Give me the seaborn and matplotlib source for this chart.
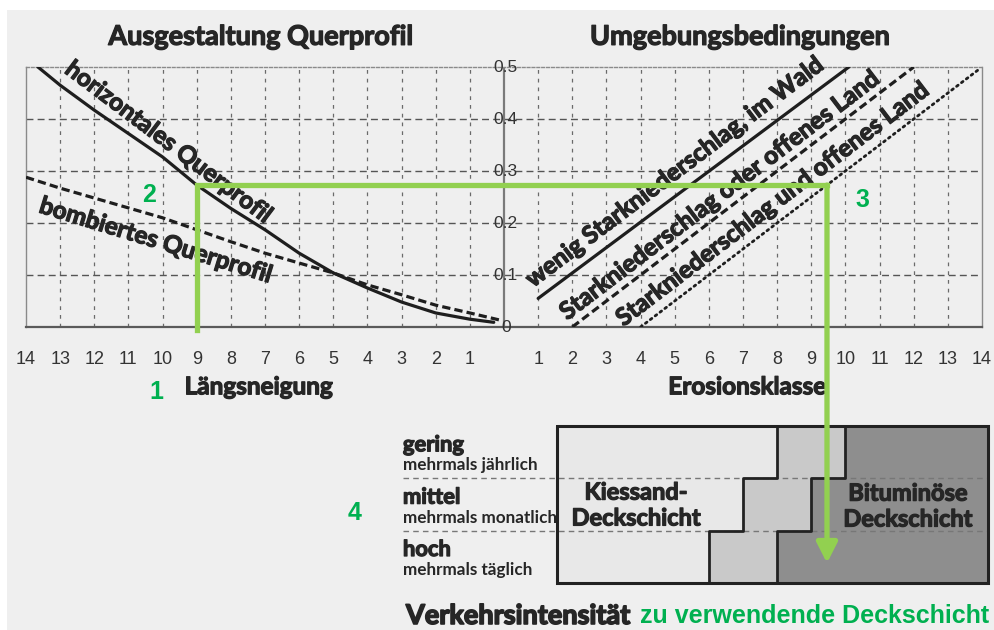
import numpy as np
import pandas as pd
import matplotlib
matplotlib.use("Agg")
import matplotlib.pyplot as plt
import matplotlib.patheffects as pe
import seaborn as sns
from matplotlib.patches import ConnectionPatch, Rectangle

# Left half: Längsneigung vs. required slope of the cross profile
laengs_h = [13.65, 13, 12, 11, 10, 9, 8, 7, 6, 5, 4, 3, 2, 1, 0.3]
horizontal = [0.50, 0.465, 0.417, 0.372, 0.327, 0.273, 0.228, 0.187, 0.142,
              0.104, 0.075, 0.048, 0.027, 0.015, 0.009]
laengs_b = [14, 13, 12, 11, 10, 9, 8, 7, 6, 5, 4, 3, 2, 1, 0.1]
bombiert = [0.288, 0.267, 0.248, 0.229, 0.21, 0.187, 0.164, 0.142, 0.123,
            0.104, 0.081, 0.062, 0.042, 0.027, 0.013]

# Right half: Erosionsklasse lines
wald_x, wald_y = [1, 10.1], [0.055, 0.5]
oder_x, oder_y = [2, 12], [0, 0.5]
und_x, und_y = [4, 13.9], [0, 0.495]

x_ticks = list(range(1, 15))
y_ticks = [0, 0.1, 0.2, 0.3, 0.4, 0.5]
y_tick_labels = ["0", "0.1", "0.2", "0.3", "0.4", "0.5"]

# Bottom: traffic intensity rows and cover layer limits (Erosionsklasse)
rows = ["gering", "mittel", "hoch"]
row_notes = ["mehrmals jährlich", "mehrmals monatlich", "mehrmals täglich"]
kies_bis = [8, 7, 6]
bitumen_ab = [10, 9, 8]
box_von, box_bis = 1.55, 14.18

# worked example
beispiel_laengs = 9

ink = "#262626"
green_line = "#92d050"
green_text = "#00b050"
heavy = [pe.withStroke(linewidth=0.9, foreground=ink)]

sns.set_theme(style="white")
plt.rcParams["font.family"] = ["Lato", "DejaVu Sans"]

fig = plt.figure(figsize=(9.95, 6.3), dpi=100, facecolor="white")
fig.add_artist(Rectangle((7 / 995, 0), 1, 620 / 630, transform=fig.transFigure,
                         facecolor="#efefef", edgecolor="none", zorder=-10))

# ---------------- top chart ----------------
ax = fig.add_axes([26 / 995, 1 - 327 / 630, 956 / 995, 260 / 630])
ax.set_facecolor("none")
ax.set_xlim(-14, 14)
ax.set_ylim(0, 0.5)

for v in range(-13, 14):
    if v != 0:
        ax.axvline(v, color="#6a6a6a", lw=0.9, ls=(0, (3, 4)), zorder=1)
for h in y_ticks[1:-1]:
    ax.axhline(h, color="#555555", lw=1.0, ls=(0, (5, 3)), zorder=1)
ax.axvline(0, color="#7a7a7a", lw=1.6, zorder=1)

for side in ["left", "right", "top"]:
    ax.spines[side].set_color("#8a8a8a")
    ax.spines[side].set_linewidth(1.0)
ax.spines["top"].set_linestyle((0, (2, 1.5)))
ax.spines["bottom"].set_color("#5a5a5a")
ax.spines["bottom"].set_linewidth(1.6)

curves = pd.DataFrame({"x": -np.array(laengs_h), "y": horizontal})
sns.lineplot(data=curves, x="x", y="y", ax=ax, color="#1e1e1e", lw=2.3, zorder=3)
sns.lineplot(x=-np.array(laengs_b), y=bombiert, ax=ax, color="#1e1e1e", lw=2.3,
             linestyle=(0, (2.6, 1.3)), zorder=3)
sns.lineplot(x=wald_x, y=wald_y, ax=ax, color="#1e1e1e", lw=2.3, zorder=3)
sns.lineplot(x=oder_x, y=oder_y, ax=ax, color="#1e1e1e", lw=2.3,
             linestyle=(0, (2.6, 1.3)), zorder=3)
sns.lineplot(x=und_x, y=und_y, ax=ax, color="#1e1e1e", lw=2.0,
             linestyle=(0, (0.7, 1.5)), dash_capstyle="round", zorder=3)

tick_pos = [-t for t in x_ticks[::-1]] + x_ticks
tick_lab = [str(t) for t in x_ticks[::-1]] + [str(t) for t in x_ticks]
ax.set_xticks(tick_pos, labels=tick_lab, fontfamily="Liberation Sans")
ax.set_yticks([])
ax.tick_params(axis="x", length=0, pad=17, labelsize=13, labelcolor="#333333")
ax.set_xlabel("")
ax.set_ylabel("")

for v, lab in zip(y_ticks, y_tick_labels):
    ax.text(0.05, v, lab, ha="center", va="center", fontsize=12.5,
            family="Liberation Sans", color="#333333", zorder=4)

ax.text(-7.12, 0.558, "Ausgestaltung Querprofil", ha="center", va="center",
        fontsize=19.5, fontweight="bold", color=ink, path_effects=heavy)
ax.text(6.91, 0.558, "Umgebungsbedingungen", ha="center", va="center",
        fontsize=19.5, fontweight="bold", color=ink, path_effects=heavy)
ax.text(-7.18, -0.115, "Längsneigung", ha="center", va="center",
        fontsize=17.5, fontweight="bold", color=ink, path_effects=heavy)
ax.text(7.12, -0.115, "Erosionsklasse", ha="center", va="center",
        fontsize=17.5, fontweight="bold", color=ink, path_effects=heavy)

lab_kw = dict(fontsize=17.5, fontweight="bold", color=ink, ha="left",
              va="baseline", rotation_mode="anchor", zorder=4, path_effects=heavy)
ax.text(-12.9, 0.49, "horizontales Querprofil", rotation=-37, **lab_kw)
ax.text(-13.65, 0.221, "bombiertes Querprofil", rotation=-17, **lab_kw)
ax.text(0.85, 0.075, "wenig Starkniederschlag, im Wald", rotation=37, **lab_kw)
ax.text(1.85, 0.012, "Starkniederschlag oder offenes Land", rotation=37.3, **lab_kw)
ax.text(3.5, 0.0, "Starkniederschlag und offenes Land", rotation=37.3, **lab_kw)

# ---------------- bottom table ----------------
axb = fig.add_axes([26 / 995, 1 - 583 / 630, 956 / 995, 157 / 630])
axb.set_facecolor("none")
axb.set_xlim(-14, 14)
axb.set_ylim(3, 0)
axb.axis("off")

ypos = np.arange(len(rows)) + 0.5
kb = np.array(kies_bis)
ba = np.array(bitumen_ab)
axb.barh(ypos, kb - box_von, left=box_von, height=1, color="#e8e8e8", lw=0, zorder=1)
axb.barh(ypos, ba - kb, left=kb, height=1, color="#c9c9c9", lw=0, zorder=1)
dark = axb.barh(ypos, box_bis - ba, left=ba, height=1, color="#8e8e8e", lw=0, zorder=1)
for bar in dark:
    bar.set_clip_on(False)

label_x = -2.96
axb.hlines(np.arange(1, len(rows)), label_x, box_bis, colors="#777777",
           linestyles=(0, (4, 3)), lw=1, zorder=2, clip_on=False)

row_edges = np.column_stack([np.arange(len(rows)), np.arange(1, len(rows) + 1)]).ravel()
axb.plot(np.repeat(kb, 2), row_edges, color="#222222", lw=2, zorder=3)
axb.plot(np.repeat(ba, 2), row_edges, color="#222222", lw=2, zorder=3)
axb.plot([box_von, box_bis, box_bis, box_von, box_von], [0, 0, len(rows), len(rows), 0],
         color="#222222", lw=2.2, zorder=3, solid_joinstyle="miter", clip_on=False)

for i, (r, n) in enumerate(zip(rows, row_notes)):
    axb.text(label_x, i + 0.36, r, fontsize=15.8, fontweight="bold", va="center",
             color=ink, path_effects=heavy)
    axb.text(label_x, i + 0.75, n, fontsize=12.3, fontweight="bold", va="center",
             color=ink)

axb.text(3.87, 1.51, "Kiessand-\nDeckschicht", ha="center", va="center", fontsize=17,
         fontweight="bold", color=ink, linespacing=1.15, zorder=4, path_effects=heavy)
axb.text(11.83, 1.53, "Bituminöse\nDeckschicht", ha="center", va="center", fontsize=17,
         fontweight="bold", color=ink, linespacing=1.15, zorder=4, path_effects=heavy)

axb.text(-2.87, 3.63, "Verkehrsintensität", ha="left", va="center", fontsize=19.5,
         fontweight="bold", color=ink, path_effects=[pe.withStroke(linewidth=1.2, foreground=ink)])
axb.text(3.98, 3.63, "zu verwendende Deckschicht", ha="left", va="center", fontsize=18,
         fontweight="bold", family="Liberation Sans", color=green_text)

# ---------------- worked example in green ----------------
y_sel = np.interp(beispiel_laengs, laengs_h[::-1], horizontal[::-1])
x_er = np.interp(y_sel, und_y, und_x)
ax.plot([-beispiel_laengs, -beispiel_laengs, x_er, x_er], [-0.006, y_sel, y_sel, y_sel],
        color=green_line, lw=3.8, solid_joinstyle="miter", solid_capstyle="projecting",
        clip_on=False, zorder=6)
arrow = ConnectionPatch(xyA=(x_er, y_sel), coordsA=ax.transData,
                        xyB=(x_er, 2.62), coordsB=axb.transData,
                        arrowstyle="-|>,head_length=0.55,head_width=0.28",
                        mutation_scale=22, color=green_line, lw=3.8,
                        shrinkA=0, shrinkB=0, zorder=6)
fig.add_artist(arrow)

num_kw = dict(fontsize=18, fontweight="bold", family="Liberation Sans",
              color=green_text, ha="center", va="center")
ax.text(-10.19, -0.125, "1", **num_kw)
ax.text(-10.4, 0.254, "2", **num_kw)
ax.text(10.49, 0.244, "3", **num_kw)
axb.text(-4.39, 1.66, "4", **num_kw)

fig.savefig("out.png", dpi=100)
